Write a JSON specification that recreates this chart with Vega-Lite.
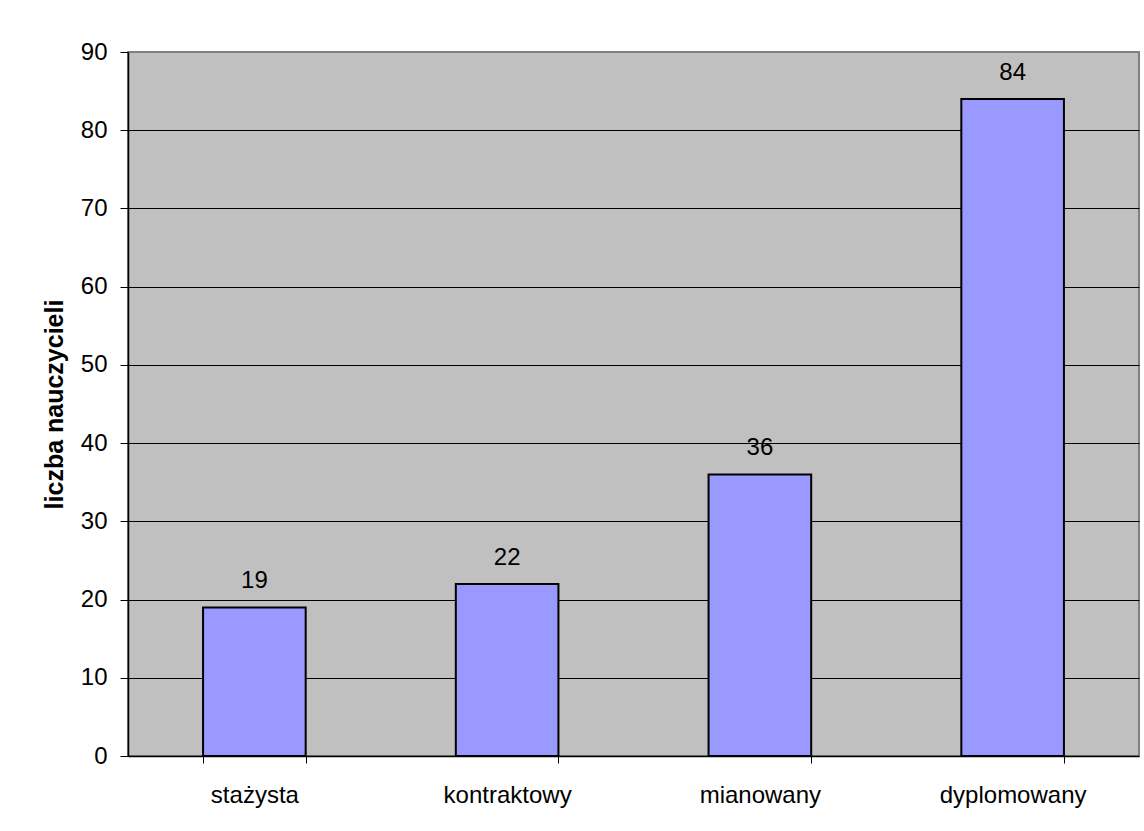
{
  "$schema": "https://vega.github.io/schema/vega-lite/v6.json",
  "autosize": "none",
  "width": 1011,
  "height": 704,
  "padding": {"left": 128, "top": 52, "right": 5, "bottom": 75},
  "background": "white",
  "config": {
    "font": "Liberation Sans",
    "view": {"fill": "#C0C0C0", "stroke": "#808080", "strokeWidth": 2}
  },
  "data": {
    "values": [
      {"stopien": "stażysta", "liczba": 19},
      {"stopien": "kontraktowy", "liczba": 22},
      {"stopien": "mianowany", "liczba": 36},
      {"stopien": "dyplomowany", "liczba": 84}
    ]
  },
  "encoding": {
    "x": {
      "field": "stopien",
      "type": "nominal",
      "sort": null,
      "scale": {"paddingInner": 0.594, "paddingOuter": 0.297},
      "axis": {
        "title": null,
        "labelAngle": 0,
        "labelFontSize": 24,
        "labelColor": "black",
        "labelPadding": 20,
        "tickBand": "extent",
        "tickSize": 7,
        "tickColor": "black",
        "tickWidth": 1,
        "domainColor": "black",
        "domainWidth": 1.5,
        "grid": false
      }
    },
    "y": {
      "field": "liczba",
      "type": "quantitative",
      "scale": {"domain": [0, 90], "nice": false},
      "axis": {
        "title": "liczba nauczycieli",
        "titleFontSize": 25,
        "titleFontWeight": "bold",
        "titleColor": "black",
        "titlePadding": 13,
        "values": [0, 10, 20, 30, 40, 50, 60, 70, 80, 90],
        "labelFontSize": 24,
        "labelColor": "black",
        "labelPadding": 13,
        "tickSize": 8,
        "tickColor": "black",
        "tickWidth": 1,
        "domainColor": "black",
        "domainWidth": 1.5,
        "grid": true,
        "gridColor": {"condition": {"test": "datum.value === 90 || datum.value === 0", "value": "#808080"}, "value": "black"},
        "gridOpacity": 1,
        "gridWidth": 1
      }
    }
  },
  "layer": [
    {
      "mark": {"type": "bar", "fill": "#9999FF", "stroke": "black", "strokeWidth": 2}
    },
    {
      "mark": {"type": "text", "fontSize": 24, "color": "black", "baseline": "alphabetic", "dy": -19},
      "encoding": {"text": {"field": "liczba", "type": "quantitative"}}
    }
  ]
}
